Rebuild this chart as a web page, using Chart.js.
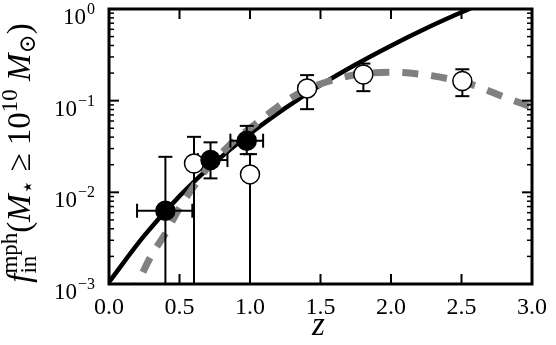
<!DOCTYPE html>
<html>
<head>
<meta charset="utf-8">
<script src="https://cdn.jsdelivr.net/npm/chart.js@4.4.0/dist/chart.umd.min.js"></script>
<style>
  html, body { margin: 0; padding: 0; background: #fff; }
  #wrap { width: 556px; height: 345px; }
</style>
</head>
<body>
<div id="wrap"><canvas id="grafico"></canvas></div>
<script>
// ticks
const zTicks = [0, 0.5, 1.0, 1.5, 2.0, 2.5, 3.0];
const fTicks = [1e-3, 1e-2, 1e-1, 1];

// curva negra continua
const curvaZ = [0, 0.25, 0.5, 0.75, 1.0, 1.25, 1.5, 1.75, 2.0, 2.25, 2.5, 2.6];
const curvaF = [0.00105, 0.00337, 0.0091, 0.0211, 0.0436, 0.083, 0.148, 0.248, 0.398, 0.617, 0.922, 1.077];

// curva gris discontinua
const modeloZ = [0.15, 0.2, 0.3, 0.4, 0.5, 0.6, 0.7, 0.8, 0.9, 1.0, 1.1, 1.25, 1.4, 1.6, 1.8, 2.0, 2.2, 2.4, 2.6, 2.8, 3.0];
const modeloF = [0.0007, 0.001, 0.00204, 0.00355, 0.00676, 0.0115, 0.0186, 0.0269, 0.038, 0.050, 0.066, 0.098, 0.132, 0.17, 0.197, 0.204, 0.195, 0.174, 0.145, 0.11, 0.085];

// puntos llenos (error en z y en f)
const llenosZ = [0.40, 0.72, 0.977];
const llenosF = [0.0063, 0.0225, 0.0366];
const llenosZmin = [0.199, 0.63, 0.861];
const llenosZmax = [0.591, 0.84, 1.093];
const llenosFmin = [0, 0.0142, 0.0261];
const llenosFmax = [0.0244, 0.0351, 0.0531];

// puntos vacios (solo error en f)
const vaciosZ = [0.603, 1.0, 1.405, 1.804, 2.506];
const vaciosF = [0.0206, 0.0157, 0.136, 0.193, 0.164];
const vaciosFmin = [0, 0, 0.0808, 0.127, 0.112];
const vaciosFmax = [0.0403, 0.0261, 0.19, 0.254, 0.220];

const serif = '"Times New Roman", "Liberation Serif", "DejaVu Serif", "DejaVu Sans", serif';

function puntos(xs, ys) {
    return xs.map((x, i) => ({x: x, y: ys[i]}));
}

function linea(ctx, x1, y1, x2, y2) {
    ctx.beginPath();
    ctx.moveTo(x1, y1);
    ctx.lineTo(x2, y2);
    ctx.stroke();
}

function barrasError(chart) {
    const ctx = chart.ctx, a = chart.chartArea;
    const xs = chart.scales.x, ys = chart.scales.y;
    const py = v => ys.getPixelForValue(Math.max(v, ys.min));
    const cap = 7;
    ctx.save();
    ctx.beginPath();
    ctx.rect(a.left, a.top, a.width, a.height);
    ctx.clip();
    ctx.strokeStyle = '#000';
    ctx.lineWidth = 2;

    llenosZ.forEach((z, i) => {
        const px = xs.getPixelForValue(z), p = py(llenosF[i]);
        const x1 = xs.getPixelForValue(llenosZmin[i]), x2 = xs.getPixelForValue(llenosZmax[i]);
        const y1 = py(llenosFmin[i]), y2 = py(llenosFmax[i]);
        linea(ctx, x1, p, x2, p);
        linea(ctx, x1, p - cap, x1, p + cap);
        linea(ctx, x2, p - cap, x2, p + cap);
        linea(ctx, px, y1, px, y2);
        linea(ctx, px - cap, y2, px + cap, y2);
        if (llenosFmin[i] > 0) linea(ctx, px - cap, y1, px + cap, y1);
    });

    vaciosZ.forEach((z, i) => {
        const px = xs.getPixelForValue(z);
        const y1 = py(vaciosFmin[i]), y2 = py(vaciosFmax[i]);
        linea(ctx, px, y1, px, y2);
        linea(ctx, px - cap, y2, px + cap, y2);
        if (vaciosFmin[i] > 0) linea(ctx, px - cap, y1, px + cap, y1);
    });
    ctx.restore();
}

// titulo del eje y con sub/superindices
function tituloY(ctx) {
    const big = 33, small = 23;
    const partes = [
        {t: 'f', f: 'italic ' + big + 'px ' + serif, dy: 0, w: 1},
        {t: 'mph', f: small + 'px ' + serif, dy: -13, w: 0},
        {t: 'in', f: small + 'px ' + serif, dy: 6, w: 2},
        {t: '(', f: big + 'px ' + serif, dy: 0, w: 1},
        {t: 'M', f: 'italic ' + big + 'px ' + serif, dy: 0, w: 1},
        {t: '\u22c6', f: small + 'px ' + serif, dy: 5, w: 1},
        {t: ' \u2265 ', f: big + 'px ' + serif, dy: 0, w: 1},
        {t: '10', f: big + 'px ' + serif, dy: 0, w: 1},
        {t: '10', f: small + 'px ' + serif, dy: -13, w: 1},
        {t: ' ', f: big + 'px ' + serif, dy: 0, w: 1},
        {t: 'M', f: 'italic ' + big + 'px ' + serif, dy: 0, w: 1},
        {t: '\u2299', f: small + 'px ' + serif, dy: 5, w: 1},
        {t: ')', f: big + 'px ' + serif, dy: 0, w: 1}
    ];
    const recorrer = (dibujar) => {
        let x = 0, prevW = 0;
        partes.forEach(p => {
            ctx.font = p.f;
            const w = ctx.measureText(p.t).width;
            if (p.w === 2) {
                // va debajo del superindice anterior
                if (dibujar) ctx.fillText(p.t, x, p.dy);
                x += Math.max(w, prevW);
                return;
            }
            if (dibujar) ctx.fillText(p.t, x, p.dy);
            if (p.w === 0) { prevW = w; return; }
            x += w;
        });
        return x;
    };
    ctx.save();
    ctx.fillStyle = '#000';
    ctx.textBaseline = 'alphabetic';
    ctx.textAlign = 'left';
    const total = recorrer(false);
    ctx.translate(30, 153);
    ctx.rotate(-Math.PI / 2);
    ctx.translate(-total / 2, 0);
    recorrer(true);
    ctx.restore();
}

const decorado = {
    id: 'decorado',
    beforeDatasetDraw(chart, args) {
        if (args.index === 3) barrasError(chart);
    },
    afterDraw(chart) {
        const ctx = chart.ctx, a = chart.chartArea;
        const xs = chart.scales.x, ys = chart.scales.y;
        ctx.save();
        ctx.strokeStyle = '#000';
        ctx.lineWidth = 2;
        zTicks.forEach(v => {
            const px = xs.getPixelForValue(v);
            linea(ctx, px, a.bottom, px, a.bottom - 10);
            linea(ctx, px, a.top, px, a.top + 10);
        });
        fTicks.forEach(v => {
            const p = ys.getPixelForValue(v);
            linea(ctx, a.left, p, a.left + 10, p);
            linea(ctx, a.right, p, a.right - 10, p);
        });
        ctx.lineWidth = 1.5;
        for (let i = 0; i < fTicks.length - 1; i++) {
            for (let m = 2; m <= 9; m++) {
                const p = ys.getPixelForValue(fTicks[i] * m);
                linea(ctx, a.left, p, a.left + 5, p);
                linea(ctx, a.right, p, a.right - 5, p);
            }
        }
        ctx.lineWidth = 3;
        ctx.strokeRect(a.left, a.top, a.width, a.height);

        // etiquetas del eje y: 10^n
        ctx.fillStyle = '#000';
        ctx.textAlign = 'right';
        ctx.textBaseline = 'alphabetic';
        fTicks.forEach(v => {
            const p = ys.getPixelForValue(v);
            const e = Math.round(Math.log10(v));
            const exp = e < 0 ? '\u2212' + (-e) : String(e);
            ctx.font = '16px ' + serif;
            const we = ctx.measureText(exp).width;
            ctx.fillText(exp, 95, p + 5);
            ctx.font = '23px ' + serif;
            ctx.fillText('10', 95 - we - 1, p + 15);
        });

        // titulo eje x
        ctx.font = 'italic 33px ' + serif;
        ctx.textAlign = 'center';
        ctx.fillText('z', (a.left + a.right) / 2 - 2, 335);

        tituloY(ctx);
        ctx.restore();
    }
};

const ctx = document.getElementById('grafico');

new Chart(ctx, {
    type: 'scatter',
    data: {
        datasets: [{
            label: 'ajuste',
            data: puntos(curvaZ, curvaF),
            showLine: true,
            borderColor: '#000',
            borderWidth: 4.5,
            pointRadius: 0,
            cubicInterpolationMode: 'monotone',
            clip: 0,
            order: 4
        }, {
            label: 'modelo',
            data: puntos(modeloZ, modeloF),
            showLine: true,
            borderColor: '#808080',
            borderWidth: 7,
            borderDash: [16, 13],
            borderCapStyle: 'butt',
            pointRadius: 0,
            cubicInterpolationMode: 'monotone',
            clip: 0,
            order: 3
        }, {
            label: 'llenos',
            data: puntos(llenosZ, llenosF),
            pointRadius: 9.5,
            pointBackgroundColor: '#000',
            pointBorderColor: '#000',
            pointBorderWidth: 1.5,
            clip: false,
            order: 0
        }, {
            label: 'vacios',
            data: puntos(vaciosZ, vaciosF),
            pointRadius: 9.5,
            pointBackgroundColor: '#fff',
            pointBorderColor: '#000',
            pointBorderWidth: 1.5,
            clip: false,
            order: 1
        }]
    },
    options: {
        responsive: true,
        maintainAspectRatio: false,
        animation: false,
        events: [],
        layout: {
            autoPadding: false,
            padding: {top: 9, right: 14, left: 0, bottom: 0}
        },
        plugins: {
            legend: {display: false},
            tooltip: {enabled: false},
            title: {display: false}
        },
        scales: {
            x: {
                type: 'linear',
                min: 0,
                max: 3,
                afterBuildTicks: s => { s.ticks = zTicks.map(v => ({value: v})); },
                afterFit: s => { s.height = 61; },
                ticks: {
                    color: '#000',
                    padding: 9,
                    maxRotation: 0,
                    font: {size: 24, family: serif},
                    callback: v => Number(v).toFixed(1)
                },
                grid: {display: false, drawTicks: false},
                border: {display: false}
            },
            y: {
                type: 'logarithmic',
                min: 1e-3,
                max: 1,
                afterBuildTicks: s => { s.ticks = fTicks.map(v => ({value: v})); },
                afterFit: s => { s.width = 109; },
                ticks: {display: false},
                grid: {display: false, drawTicks: false},
                border: {display: false}
            }
        }
    },
    plugins: [decorado]
});
</script>
</body>
</html>
